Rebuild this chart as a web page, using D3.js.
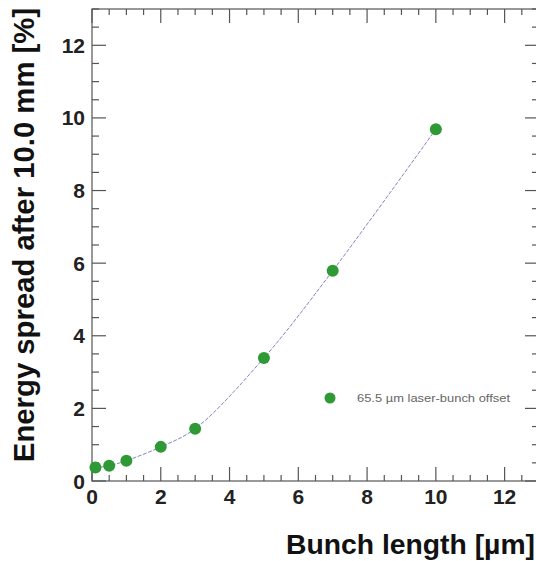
<!DOCTYPE html>
<html><head><meta charset="utf-8">
<script src="https://cdn.jsdelivr.net/npm/d3@7"></script>
<style>body{margin:0;background:#fff}svg{display:block}</style>
</head><body>
<script>
const bunchLength = [0.1, 0.5, 1, 2, 3, 5, 7, 10];
const energySpread = [0.37, 0.42, 0.56, 0.94, 1.44, 3.39, 5.79, 9.69];
const xTicks = [0, 2, 4, 6, 8, 10, 12];
const yTicks = [0, 2, 4, 6, 8, 10, 12];
const legendLabel = "65.5 \u00b5m laser-bunch offset";

const W = 536, H = 561;
const svg = d3.select("body").append("svg").attr("width", W).attr("height", H);
const x = d3.scaleLinear().domain([0, 13]).range([92, 539]);
const y = d3.scaleLinear().domain([0, 13]).range([481, 9]);
const axisCol = "#555";
const font = "Liberation Sans, Arial, sans-serif";

// frame
svg.append("rect").attr("x", x(0)).attr("y", y(13)).attr("width", x(13) - x(0)).attr("height", y(0) - y(13))
  .attr("fill", "none").attr("stroke", axisCol).attr("stroke-width", 1.2);

const minorX = d3.range(0, 13.01, 0.5);
const minorY = d3.range(0, 13.01, 0.5);
const g = svg.append("g").attr("stroke", axisCol).attr("stroke-width", 1.2);
minorX.forEach(v => {
  const major = Math.abs(v - Math.round(v / 2) * 2) < 1e-6;
  const L = major ? 14 : 6;
  g.append("line").attr("x1", x(v)).attr("x2", x(v)).attr("y1", y(0)).attr("y2", y(0) - L);
  g.append("line").attr("x1", x(v)).attr("x2", x(v)).attr("y1", y(13)).attr("y2", y(13) + L);
});
minorY.forEach(v => {
  const major = Math.abs(v - Math.round(v / 2) * 2) < 1e-6;
  const L = major ? 14 : 7;
  g.append("line").attr("y1", y(v)).attr("y2", y(v)).attr("x1", x(0)).attr("x2", x(0) + L);
  g.append("line").attr("y1", y(v)).attr("y2", y(v)).attr("x1", x(13)).attr("x2", x(13) - L);
});

// tick labels
svg.append("g").selectAll("text").data(xTicks).join("text")
  .attr("x", d => x(d)).attr("y", 504).attr("text-anchor", "middle")
  .attr("font-family", font).attr("font-weight", "bold").attr("font-size", 21).attr("fill", "#222")
  .text(d => d);
svg.append("g").selectAll("text").data(yTicks).join("text")
  .attr("x", 85).attr("y", d => y(d) + 7.5).attr("text-anchor", "end")
  .attr("font-family", font).attr("font-weight", "bold").attr("font-size", 21).attr("fill", "#222")
  .text(d => d);

// axis titles
svg.append("text").attr("x", 535).attr("y", 554).attr("text-anchor", "end")
  .attr("font-family", font).attr("font-weight", "bold").attr("font-size", 28.3).attr("fill", "#111")
  .text("Bunch length [\u00b5m]");
svg.append("text").attr("transform", "translate(34,235) rotate(-90)").attr("text-anchor", "middle")
  .attr("font-family", font).attr("font-weight", "bold").attr("font-size", 29.3).attr("fill", "#111")
  .text("Energy spread after 10.0 mm [%]");

// curve
const data = bunchLength.map((b, i) => [b, energySpread[i]]);
svg.append("path").datum(data)
  .attr("d", d3.line().x(d => x(d[0])).y(d => y(d[1])).curve(d3.curveCatmullRom))
  .attr("fill", "none").attr("stroke", "#8484c4").attr("stroke-width", 1).attr("stroke-dasharray", "4,1.5");

svg.append("g").selectAll("circle").data(data).join("circle")
  .attr("cx", d => x(d[0])).attr("cy", d => y(d[1])).attr("r", 6).attr("fill", "#2f9a35");

// legend
svg.append("circle").attr("cx", 330).attr("cy", 398).attr("r", 5.5).attr("fill", "#2f9a35");
svg.append("text").attr("x", 357).attr("y", 401.5).attr("font-family", font).attr("font-size", 11.5)
  .attr("fill", "#666").attr("textLength", 153).attr("lengthAdjust", "spacingAndGlyphs").text(legendLabel);
</script>
</body></html>
